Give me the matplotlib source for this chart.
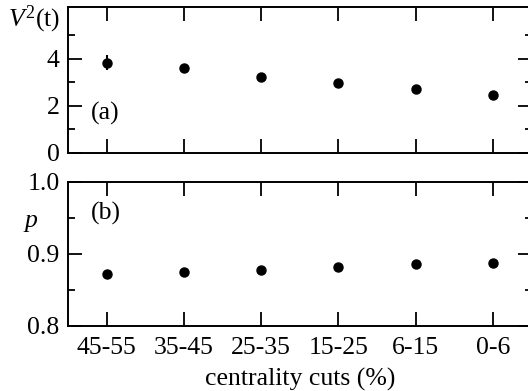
import matplotlib
matplotlib.use("Agg")
import matplotlib.pyplot as plt
from matplotlib.ticker import MultipleLocator

plt.rcParams['font.family'] = ['Liberation Serif', 'DejaVu Serif']
plt.rcParams['mathtext.fontset'] = 'custom'
plt.rcParams['mathtext.rm'] = 'Liberation Serif'
plt.rcParams['mathtext.it'] = 'Liberation Serif:italic'

categories = ['45-55', '35-45', '25-35', '15-25', '6-15', '0-6']
v2_values = [3.83, 3.60, 3.23, 2.98, 2.70, 2.45]
v2_errors = [0.32, 0.0, 0.0, 0.0, 0.0, 0.0]
p_values = [0.872, 0.875, 0.878, 0.882, 0.886, 0.888]

fig = plt.figure(figsize=(5.28, 3.91), dpi=100)
W, H = 528, 391
left, right = 68, 531.6
ax1 = fig.add_axes([left / W, 1 - 153 / H, (right - left) / W, (153 - 7) / H])
ax2 = fig.add_axes([left / W, 1 - 326 / H, (right - left) / W, (326 - 182) / H])

x = list(range(len(categories)))
fs = 18.5

ax1.errorbar(x, v2_values, yerr=v2_errors, fmt='o', color='black', ms=6.5,
             elinewidth=1.5, capsize=0)
ax2.plot(x, p_values, 'o', color='black', ms=6.5)

ax1.set_ylim(0, 6.2)
ax1.set_yticks([0, 2, 4])
ax1.set_yticks([1, 3, 5], minor=True)

ax2.set_ylim(0.8, 1.0)
ax2.set_yticks([0.8, 0.9, 1.0])
ax2.set_yticklabels(['0.8', '0.9', '1.0'])
ax2.set_yticks([0.85, 0.95], minor=True)

for ax in (ax1, ax2):
    ax.set_xlim(-0.5, 5.5)
    ax.set_xticks(x)
    for s in ax.spines.values():
        s.set_linewidth(1.4)
    ax.tick_params(which='both', direction='in', top=True, right=True,
                   width=1.3, labelsize=fs)
    ax.tick_params(which='major', length=10, pad=6)
    ax.tick_params(which='minor', length=5)
ax2.tick_params(axis='x', which='major', pad=8)

ax1.set_xticklabels([])
ax2.set_xticklabels(categories)
ax2.set_xlabel('centrality cuts (%)', fontsize=fs, labelpad=6)

fig.text(34 / W, 1 - 19 / H, r'$V^2$(t)', fontsize=fs, ha='center', va='center')
fig.text(31 / W, 1 - 223 / H, r'$p$', fontsize=fs, ha='center', va='center')
ax1.text(0.05, 0.27, '(a)', transform=ax1.transAxes, fontsize=fs, va='center', ha='left')
ax2.text(0.05, 0.78, '(b)', transform=ax2.transAxes, fontsize=fs, va='center', ha='left')

fig.savefig('out.png', dpi=100)
